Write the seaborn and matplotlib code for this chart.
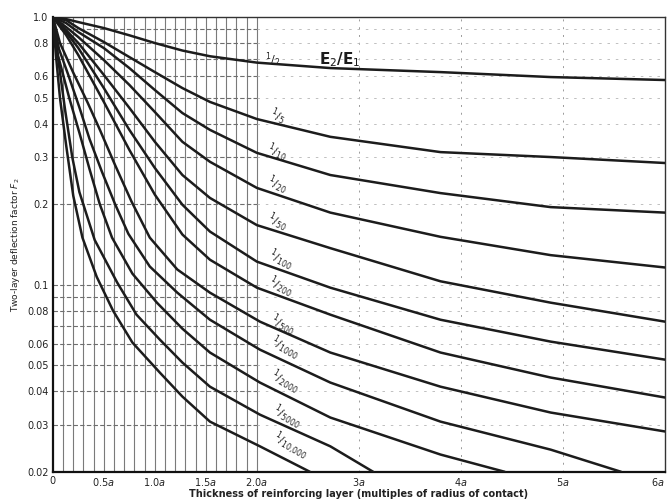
import matplotlib
matplotlib.use("Agg")
import matplotlib.pyplot as plt
import seaborn as sns
import pandas as pd

# E2/E1 ratio of each curve (label text as printed on the chart)
ratios = ["1/2", "1/5", "1/10", "1/20", "1/50", "1/100", "1/200", "1/500",
          "1/1000", "1/2000", "1/5000", "1/10,000"]

# thickness h (multiples of a) -> two-layer deflection factor F2
x_upper = [0, 0.13, 0.25, 0.5, 0.75, 1.0, 1.27, 1.54, 2.0, 2.72, 3.8, 4.88, 6.0]
f_2 = [1.0, 0.983, 0.958, 0.910, 0.855, 0.800, 0.750, 0.714, 0.676, 0.645, 0.623, 0.597, 0.582]
f_5 = [1.0, 0.974, 0.910, 0.807, 0.709, 0.623, 0.543, 0.482, 0.416, 0.357, 0.313, 0.300, 0.285]
f_10 = [1.0, 0.950, 0.879, 0.766, 0.645, 0.534, 0.438, 0.379, 0.311, 0.257, 0.220, 0.195, 0.186]
f_20 = [1.0, 0.918, 0.842, 0.691, 0.558, 0.442, 0.342, 0.288, 0.230, 0.186, 0.151, 0.129, 0.116]
f_50 = [1.0, 0.894, 0.800, 0.608, 0.458, 0.342, 0.257, 0.211, 0.167, 0.137, 0.103, 0.0857, 0.0728]
f_100 = [1.0, 0.879, 0.766, 0.543, 0.379, 0.273, 0.199, 0.158, 0.122, 0.0975, 0.0740, 0.0613, 0.0525]
f_200 = [1.0, 0.857, 0.721, 0.482, 0.319, 0.217, 0.154, 0.124, 0.0975, 0.0773, 0.0558, 0.0450, 0.0379]

x_500 = [0, 0.07, 0.2, 0.34, 0.46, 0.61, 0.77, 0.95, 1.22, 1.54, 2.03, 2.72, 3.8, 4.88, 6.0]
f_500 = [1.0, 0.80, 0.62, 0.48, 0.38, 0.28, 0.205, 0.150, 0.114, 0.0934, 0.0728, 0.0558, 0.0416, 0.0333, 0.0283]

x_1000 = [0, 0.06, 0.15, 0.26, 0.36, 0.48, 0.61, 0.74, 0.95, 1.22, 1.54, 2.03, 2.72, 3.8, 4.88, 5.57]
f_1000 = [1.0, 0.76, 0.61, 0.46, 0.35, 0.265, 0.20, 0.155, 0.117, 0.0934, 0.0740, 0.0572, 0.0431, 0.0308, 0.0242, 0.020]

x_2000 = [0, 0.05, 0.16, 0.26, 0.36, 0.46, 0.58, 0.78, 1.02, 1.27, 1.54, 2.03, 2.72, 3.8, 4.43]
f_2000 = [1.0, 0.72, 0.50, 0.37, 0.27, 0.20, 0.150, 0.110, 0.0857, 0.0685, 0.0558, 0.0431, 0.0319, 0.0232, 0.020]

x_5000 = [0, 0.04, 0.12, 0.19, 0.26, 0.41, 0.63, 0.82, 1.05, 1.27, 1.54, 2.03, 2.72, 3.14]
f_5000 = [1.0, 0.753, 0.45, 0.30, 0.222, 0.147, 0.102, 0.0773, 0.0623, 0.0512, 0.0416, 0.0327, 0.0249, 0.020]

x_10000 = [0, 0.03, 0.07, 0.13, 0.20, 0.29, 0.43, 0.59, 0.78, 1.05, 1.27, 1.54, 2.03, 2.52]
f_10000 = [1.0, 0.721, 0.498, 0.333, 0.215, 0.150, 0.107, 0.080, 0.0608, 0.0469, 0.0382, 0.0308, 0.0249, 0.020]

# where each curve label is centred (h, F2) and its slant
label_x = [2.15, 2.2, 2.2, 2.2, 2.2, 2.23, 2.23, 2.25, 2.27, 2.27, 2.29, 2.33]
label_f = [0.691, 0.424, 0.313, 0.236, 0.172, 0.124, 0.098, 0.071, 0.058, 0.0435, 0.0322, 0.0249]
label_rot = [0, -22, -22, -24, -25, -27, -27, -28, -30, -30, -30, -30]

y_ticks = [1.0, 0.8, 0.6, 0.5, 0.4, 0.3, 0.2, 0.1, 0.08, 0.06, 0.05, 0.04, 0.03, 0.02]
y_ticklabels = ["1.0", "0.8", "0.6", "0.5", "0.4", "0.3", "0.2", "0.1", "0.08",
                "0.06", "0.05", "0.04", "0.03", "0.02"]
x_ticks = [0, 0.5, 1.0, 1.5, 2.0, 3, 4, 5, 6]
x_ticklabels = ["0", "0.5$a$", "1.0$a$", "1.5$a$", "2.0$a$", "3$a$", "4$a$", "5$a$", "6$a$"]

# horizontal grid levels (log minor lines) and fine vertical grid in the 0-2a zone
h_grid = [0.02, 0.03, 0.04, 0.05, 0.06, 0.07, 0.08, 0.09, 0.1, 0.2, 0.3, 0.4,
          0.5, 0.6, 0.7, 0.8, 0.9]
v_fine = [i / 10 for i in range(1, 21)]
v_coarse = [3, 4, 5]

xs = [x_upper] * 7 + [x_500, x_1000, x_2000, x_5000, x_10000]
fs = [f_2, f_5, f_10, f_20, f_50, f_100, f_200, f_500, f_1000, f_2000, f_5000, f_10000]

rows = []
for r, xv, fv in zip(ratios, xs, fs):
    for a, b in zip(xv, fv):
        rows.append({"ratio": r, "h": a, "F2": b})
df = pd.DataFrame(rows)

sns.set_style("white")
plt.rcParams["font.family"] = ["DejaVu Sans"]

fig, ax = plt.subplots(figsize=(6.69, 5.03), dpi=100)
fig.subplots_adjust(left=0.079, right=0.994, top=0.966, bottom=0.062)

# grid first so the curves sit on top
ax.vlines(v_fine, 0.02, 1.0, colors="#7a7a7a", linewidth=0.8, zorder=1)
ax.vlines(v_coarse, 0.02, 1.0, colors="#9a9a9a", linewidth=0.7,
          linestyles=(0, (2, 6)), zorder=1)
ax.hlines(h_grid, 0, 2.0, colors="#6e6e6e", linewidth=0.8,
          linestyles=(0, (4, 2)), zorder=1)
ax.hlines(h_grid, 2.0, 6.0, colors="#b5b5b5", linewidth=0.6,
          linestyles=(0, (3, 7)), zorder=1)

sns.lineplot(data=df, x="h", y="F2", hue="ratio", hue_order=ratios,
             palette=["#1c1c1c"] * len(ratios), estimator=None, sort=False,
             linewidth=1.8, legend=False, ax=ax, zorder=3)

ax.set_yscale("log")
ax.set_xlim(0, 6)
ax.set_ylim(0.02, 1.0)
ax.set_yticks(y_ticks)
ax.set_yticklabels(y_ticklabels)
ax.yaxis.set_minor_locator(matplotlib.ticker.NullLocator())
ax.set_xticks(x_ticks)
ax.set_xticklabels(x_ticklabels)
ax.get_xticklabels()[-1].set_ha("right")
ax.tick_params(axis="both", length=0, labelsize=7, colors="#222222", pad=3)

for lab, lx, lf, rot in zip(ratios, label_x, label_f, label_rot):
    num, den = lab.split("/")
    ax.text(lx, lf, "$^{%s}/_{%s}$" % (num, den.replace(",", "{,}")),
            fontsize=8, rotation=rot, ha="center", va="center",
            color="#222222", zorder=4)
ax.text(2.81, 0.691, "E$_2$/E$_1$", fontsize=11, fontweight="bold",
        ha="center", va="center", color="#1c1c1c", zorder=4)

ax.set_xlabel("Thickness of reinforcing layer (multiples of radius of contact)",
              fontsize=7, fontweight="bold", color="#222222", labelpad=1)
ax.set_ylabel("Two-layer deflection factor $F_2$", fontsize=6.5,
              color="#222222", labelpad=4)

for side in ["left", "bottom"]:
    ax.spines[side].set_linewidth(1.6)
    ax.spines[side].set_color("#111111")
for side in ["top", "right"]:
    ax.spines[side].set_linewidth(1.0)
    ax.spines[side].set_color("#333333")

fig.savefig("out.png", dpi=100)
